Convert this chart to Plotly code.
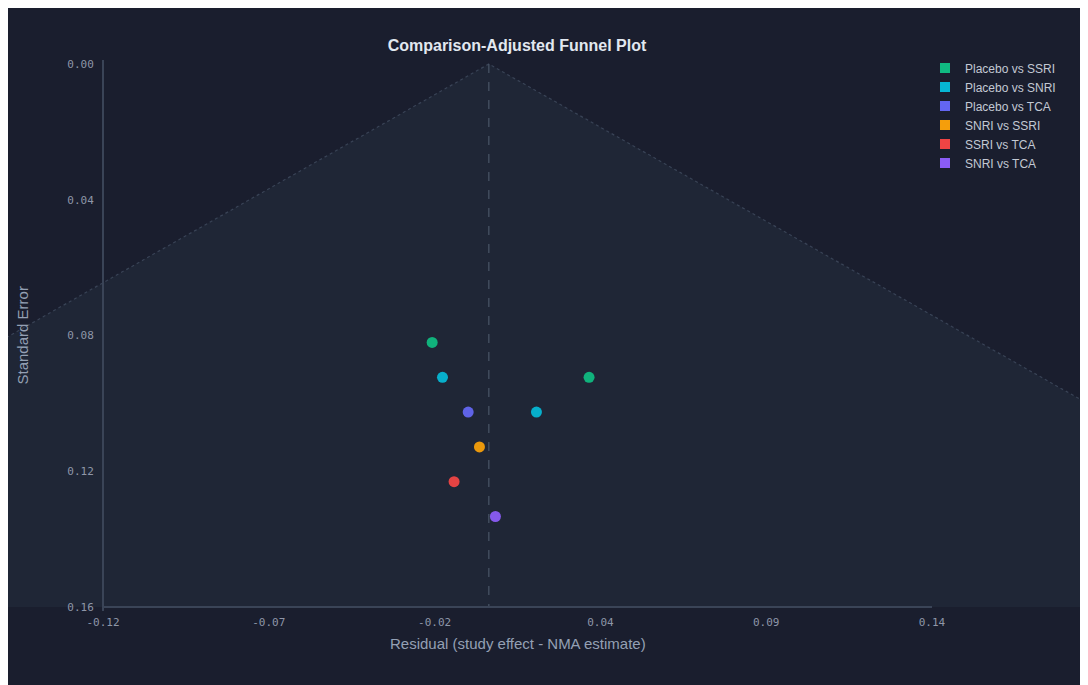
import plotly.graph_objects as go

# ---- data ----
comparisons = ["Placebo vs SSRI", "Placebo vs SNRI", "Placebo vs TCA",
               "SNRI vs SSRI", "SSRI vs TCA", "SNRI vs TCA"]
colors = ["#10b981", "#06b6d4", "#6366f1", "#f59e0b", "#ef4444", "#8b5cf6"]

point_comparison = ["Placebo vs SSRI", "Placebo vs SNRI", "Placebo vs SSRI",
                    "Placebo vs TCA", "Placebo vs SNRI", "SNRI vs SSRI",
                    "SSRI vs TCA", "SNRI vs TCA"]
residuals = [-0.0181, -0.0148, 0.0320, -0.0066, 0.0152, -0.0030, -0.0111, 0.0021]
std_errors = [0.08, 0.09, 0.09, 0.10, 0.10, 0.11, 0.12, 0.13]

se_max = 0.156
z_crit = 1.96
x_min, x_max = -0.1232, 0.1415
x_tick_labels = ["-0.12", "-0.07", "-0.02", "0.04", "0.09", "0.14"]
y_tick_vals = [0.0, 0.039, 0.078, 0.117, 0.156]
y_tick_labels = ["0.00", "0.04", "0.08", "0.12", "0.16"]

# ---- layout geometry ----
W, H = 1080, 677
plot_left_px = 95          # y-axis position in figure px
px_per_unit_x = 829 / (x_max - x_min)
range_x0 = x_min - plot_left_px / px_per_unit_x
range_x1 = range_x0 + W / px_per_unit_x
px_per_unit_y = 543 / se_max
pad_y = 4 / px_per_unit_y

n_ticks = len(x_tick_labels)
x_tick_vals = [x_min + i * (x_max - x_min) / (n_ticks - 1) for i in range(n_ticks)]

BG = "#1a1e2e"
AXIS = "#3a4457"
TICK = "#8e96a8"

fig = go.Figure()

# funnel region
funnel_x = [-z_crit * se_max, 0.0, z_crit * se_max]
funnel_y = [se_max, 0.0, se_max]
fig.add_trace(go.Scatter(
    x=funnel_x, y=funnel_y, mode="lines", fill="toself",
    fillcolor="#1f2636", line=dict(color="#394356", width=1.2, dash="dot"),
    showlegend=False, hoverinfo="skip"))

# vertical reference line
fig.add_trace(go.Scatter(
    x=[0, 0], y=[0, se_max], mode="lines",
    line=dict(color="#4a5568", width=1.2, dash="dash"),
    showlegend=False, hoverinfo="skip"))

# x-axis line
fig.add_trace(go.Scatter(
    x=[x_min, x_max], y=[se_max, se_max], mode="lines",
    line=dict(color=AXIS, width=2), showlegend=False, hoverinfo="skip"))

# points
for comp, col in zip(comparisons, colors):
    xs = [r for r, c in zip(residuals, point_comparison) if c == comp]
    ys = [s for s, c in zip(std_errors, point_comparison) if c == comp]
    fig.add_trace(go.Scatter(
        x=xs, y=ys, mode="markers", name=comp,
        marker=dict(color=col, size=11, opacity=0.95, line=dict(width=0)),
        showlegend=False))
    # legend proxy (square swatch)
    fig.add_trace(go.Scatter(
        x=[None], y=[None], mode="markers", name=comp,
        marker=dict(color=col, symbol="square", size=10),
        showlegend=True))

fig.update_layout(
    width=W, height=H, autosize=False,
    paper_bgcolor=BG, plot_bgcolor=BG,
    margin=dict(l=0, r=0, t=52, b=74),
    title=dict(text="<b>Comparison-Adjusted Funnel Plot</b>",
               x=(517 - 8) / W, xanchor="center", xref="container",
               y=1 - 37 / H, yanchor="middle",
               font=dict(family="Liberation Sans, Arial", size=16, color="#e2e8f0")),
    xaxis=dict(range=[range_x0, range_x1], tickvals=x_tick_vals, ticktext=x_tick_labels,
               showgrid=False, zeroline=False, showline=False, ticks="",
               ticklabelstandoff=3,
               tickfont=dict(family="DejaVu Sans Mono", size=11, color=TICK)),
    yaxis=dict(range=[se_max + pad_y, -pad_y], tickvals=y_tick_vals, ticktext=y_tick_labels,
               showgrid=False, zeroline=False, showline=True, linecolor=AXIS, linewidth=2,
               anchor="free", position=plot_left_px / W, ticks="",
               ticklabelstandoff=6,
               tickfont=dict(family="DejaVu Sans Mono", size=11, color=TICK)),
    legend=dict(x=(925 - 8) / W, xanchor="left", y=1.012, yanchor="top",
                bgcolor="rgba(0,0,0,0)",
                font=dict(family="Liberation Sans, Arial", size=12, color="#c3c9d4"),
                itemwidth=30, tracegroupgap=0),
    annotations=[
        dict(text="Residual (study effect - NMA estimate)", xref="x", yref="paper",
             x=(x_min + x_max) / 2, y=-(643 - 611) / 551, xanchor="center", yanchor="middle",
             showarrow=False,
             font=dict(family="Liberation Sans, Arial", size=15, color="#94a0b4")),
        dict(text="Standard Error", xref="paper", yref="paper",
             x=(22 - 8) / W, y=0.5, xanchor="center", yanchor="middle", textangle=-90,
             showarrow=False,
             font=dict(family="Liberation Sans, Arial", size=15, color="#94a0b4")),
    ],
)

fig.write_html("out.html")
